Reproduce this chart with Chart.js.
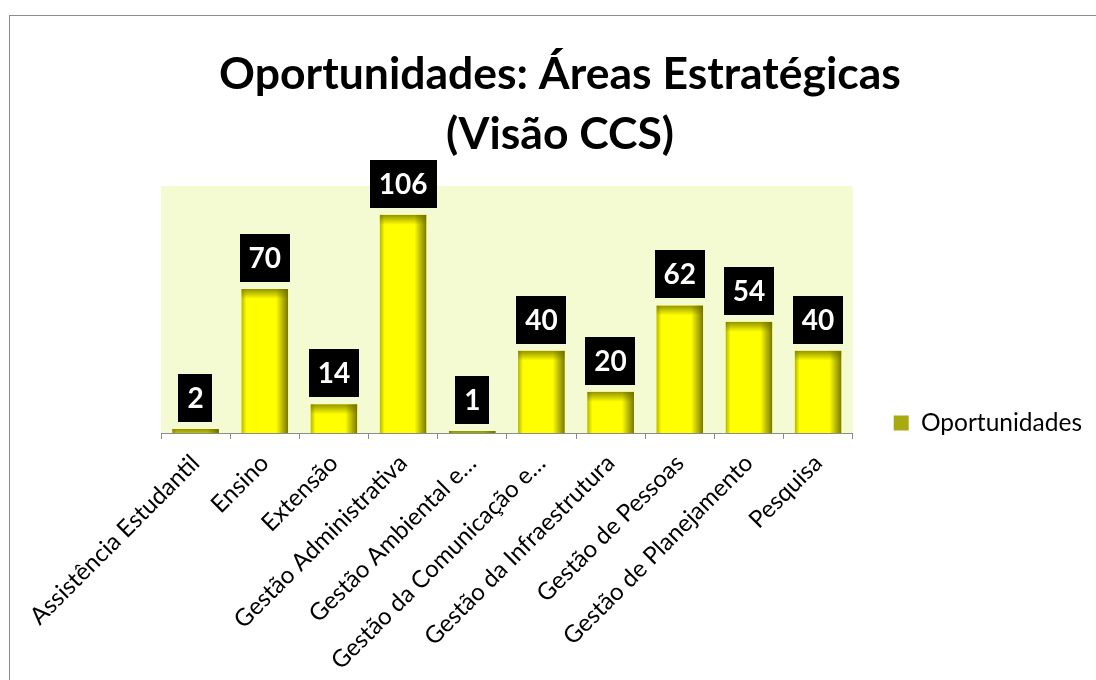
<!DOCTYPE html>
<html lang="pt-BR">
<head>
<meta charset="utf-8">
<title>Oportunidades: Áreas Estratégicas (Visão CCS)</title>
<script src="https://cdn.jsdelivr.net/npm/chart.js@4.4.1/dist/chart.umd.min.js"></script>
<style>
  html, body { margin: 0; padding: 0; background: #fff; overflow: hidden; }
  .moldura {
    position: absolute; left: 9px; top: 15px;
    width: 1200px; height: 800px;
    border: 1px solid #8c8c8c;
  }
  #grafico { position: absolute; left: 0; top: 0; }
</style>
</head>
<body>
<div class="moldura"></div>
<canvas id="grafico" width="1096" height="680"></canvas>
<script>
// dados do gráfico
const categorias = [
  "Assistência Estudantil",
  "Ensino",
  "Extensão",
  "Gestão Administrativa",
  "Gestão Ambiental e…",
  "Gestão da Comunicação e…",
  "Gestão da Infraestrutura",
  "Gestão de Pessoas",
  "Gestão de Planejamento",
  "Pesquisa",
];
const oportunidades = [2, 70, 14, 106, 1, 40, 20, 62, 54, 40];
const serieNome = "Oportunidades";
const eixoMax = 120;

const FONTE = "Lato, 'Open Sans', sans-serif";

// fundo da área de plotagem
const fundoPlotagem = {
  id: "fundoPlotagem",
  beforeDraw(chart) {
    const { ctx, chartArea: a } = chart;
    ctx.save();
    ctx.fillStyle = "#F4FAD2";
    ctx.fillRect(a.left, a.top, a.right - a.left, a.bottom - a.top);
    ctx.restore();
  },
};

// legenda centralizada entre o topo da área de plotagem e a base do gráfico
const posLegenda = {
  id: "posLegenda",
  afterLayout(chart) {
    const lg = chart.legend;
    if (!lg) return;
    lg.top = chart.chartArea.top;
    lg.bottom = 660;
  },
};

// sombreado nas bordas das barras (efeito bisel)
const sombraBarras = {
  id: "sombraBarras",
  afterDatasetsDraw(chart) {
    const { ctx } = chart;
    const meta = chart.getDatasetMeta(0);
    meta.data.forEach((bar) => {
      const { x, y, base, width } = bar.getProps(["x", "y", "base", "width"], true);
      const l = x - width / 2, r = x + width / 2;
      const h = base - y;
      ctx.save();
      ctx.beginPath();
      ctx.rect(l, y, width, h);
      ctx.clip();

      let g = ctx.createLinearGradient(r - 12, 0, r, 0);
      g.addColorStop(0, "rgba(95,95,0,0)");
      g.addColorStop(1, "rgba(95,95,0,0.85)");
      ctx.fillStyle = g;
      ctx.fillRect(r - 12, y, 12, h);

      g = ctx.createLinearGradient(l, 0, l + 5, 0);
      g.addColorStop(0, "rgba(120,120,0,0.55)");
      g.addColorStop(1, "rgba(120,120,0,0)");
      ctx.fillStyle = g;
      ctx.fillRect(l, y, 5, h);

      g = ctx.createLinearGradient(0, y, 0, y + 10);
      g.addColorStop(0, "rgba(110,110,0,0.75)");
      g.addColorStop(1, "rgba(110,110,0,0)");
      ctx.fillStyle = g;
      ctx.fillRect(l, y, width, 10);
      ctx.restore();
    });
  },
};

// rótulos de valor em caixa preta acima de cada barra
const rotulosValor = {
  id: "rotulosValor",
  afterDatasetsDraw(chart) {
    const { ctx } = chart;
    const meta = chart.getDatasetMeta(0);
    ctx.save();
    ctx.font = "bold 28px " + FONTE;
    ctx.textAlign = "center";
    ctx.textBaseline = "middle";
    meta.data.forEach((bar, i) => {
      const txt = String(chart.data.datasets[0].data[i]);
      const w = ctx.measureText(txt).width + 18;
      const hCaixa = 48;
      const fundo = bar.y - 7;
      ctx.fillStyle = "#000";
      ctx.fillRect(Math.round(bar.x - w / 2), Math.round(fundo - hCaixa), Math.round(w), hCaixa);
      ctx.fillStyle = "#fff";
      ctx.fillText(txt, bar.x, fundo - hCaixa / 2 + 1);
    });
    ctx.restore();
  },
};

new Chart(document.getElementById("grafico"), {
  type: "bar",
  data: {
    labels: categorias,
    datasets: [
      {
        label: serieNome,
        data: oportunidades,
        backgroundColor: "#FFFF00",
        borderWidth: 0,
        categoryPercentage: 1,
        barPercentage: 0.676,
      },
    ],
  },
  options: {
    responsive: false,
    animation: false,
    layout: { padding: { left: 28, right: 4, top: 15, bottom: 0 } },
    plugins: {
      title: {
        display: true,
        text: ["Oportunidades: Áreas Estratégicas", "(Visão CCS)"],
        color: "#000",
        font: { family: FONTE, size: 44.5, weight: "bold", lineHeight: 60 / 44.5 },
        padding: { top: 30, bottom: 21 },
      },
      legend: {
        position: "right",
        align: "center",
        labels: {
          color: "#000",
          font: { family: FONTE, size: 24.5 },
          boxWidth: 15,
          boxHeight: 15,
          padding: 41,
          generateLabels(chart) {
            return Chart.defaults.plugins.legend.labels.generateLabels(chart).map((it) => ({
              ...it,
              fillStyle: "#A9A912",
              strokeStyle: "#A9A912",
              lineWidth: 0,
            }));
          },
        },
      },
      tooltip: { enabled: false },
    },
    scales: {
      x: {
        grid: {
          display: true,
          drawOnChartArea: false,
          drawTicks: true,
          tickLength: 6,
          color: "#8c8c8c",
        },
        border: { display: true, color: "#8c8c8c" },
        ticks: {
          autoSkip: false,
          minRotation: 45,
          maxRotation: 45,
          color: "#000",
          font: { family: FONTE, size: 24 },
          padding: 10,
        },
        afterFit(scale) {
          scale.height = 247;
        },
      },
      y: {
        min: 0,
        max: eixoMax,
        grid: { display: false },
        border: { display: false },
        ticks: { display: false },
        afterFit(scale) {
          scale.width = 133;
        },
      },
    },
  },
  plugins: [fundoPlotagem, posLegenda, sombraBarras, rotulosValor],
});
</script>
</body>
</html>
